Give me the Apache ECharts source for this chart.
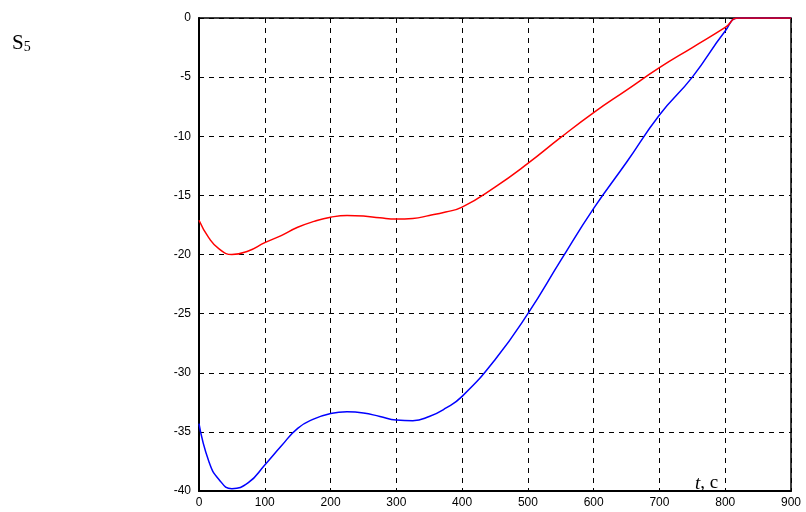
<!DOCTYPE html>
<html>
<head>
<meta charset="utf-8">
<script src="https://cdn.jsdelivr.net/npm/echarts@6/dist/echarts.min.js"></script>
<style>
  html, body { margin: 0; padding: 0; background: #fff; }
  #chart { width: 806px; height: 512px; }
</style>
</head>
<body>
<div id="chart"></div>
<script>
// time, s
var tVals = [0, 15, 30, 50, 75, 100, 125, 150, 175, 200, 225, 250, 275, 300, 325, 350, 375, 400,
             450, 500, 550, 600, 650, 700, 750, 800, 820, 900];
// red curve
var redVals = [-17.1, -18.6, -19.5, -20.0, -19.7, -19.0, -18.4, -17.7, -17.2, -16.85, -16.7, -16.75, -16.9, -17.0, -16.95, -16.7, -16.4, -16.0,
               -14.3, -12.3, -10.1, -8.0, -6.1, -4.2, -2.5, -0.8, 0, 0];
// blue curve
var blueVals = [-34.3, -37.5, -39.0, -39.8, -39.3, -37.8, -36.2, -34.7, -33.9, -33.45, -33.3, -33.4, -33.7, -34.0, -34.05, -33.7, -33.0, -32.0,
                -28.9, -25.0, -20.5, -16.1, -12.2, -8.2, -5.0, -1.1, 0, 0];

function pairs(vals) {
  var out = [];
  for (var i = 0; i < tVals.length; i++) {
    out.push([tVals[i], vals[i]]);
  }
  return out;
}

var chart = echarts.init(document.getElementById('chart'));
var gridLine = { show: true, lineStyle: { color: '#000', type: [5, 5], width: 1 } };
var option = {
  animation: false,
  backgroundColor: '#fff',
  grid: {
    left: 199, top: 18, right: 15, bottom: 21,
    show: true, borderColor: '#000', borderWidth: 1.5
  },
  xAxis: {
    type: 'value', min: 0, max: 900, interval: 100,
    axisLine: { show: true, onZero: false, lineStyle: { color: '#000', width: 2 } },
    axisTick: { show: false },
    axisLabel: { color: '#000', fontFamily: 'Liberation Sans', fontSize: 12, margin: 6 },
    splitLine: gridLine
  },
  yAxis: {
    type: 'value', min: -40, max: 0, interval: 5,
    axisLine: { show: true, onZero: false, lineStyle: { color: '#000', width: 2 } },
    axisTick: { show: false },
    axisLabel: { color: '#000', fontFamily: 'Liberation Sans', fontSize: 12, margin: 8 },
    splitLine: gridLine
  },
  graphic: [
    {
      type: 'text', left: 12, top: 33,
      style: {
        text: '{s|S}{n|5}',
        rich: {
          s: { fontFamily: 'Liberation Serif', fontSize: 21, fill: '#000' },
          n: { fontFamily: 'Liberation Serif', fontSize: 14, fill: '#000', verticalAlign: 'bottom', padding: [8, 0, 0, 0] }
        }
      }
    },
    {
      type: 'text', left: 695, top: 474, z: 100,
      style: {
        text: '{t|t}{c|, c}',
        rich: {
          t: { fontFamily: 'Liberation Serif', fontStyle: 'italic', fontSize: 19, fill: '#000' },
          c: { fontFamily: 'Liberation Serif', fontSize: 19, fill: '#000' }
        }
      }
    }
  ],
  series: [
    {
      name: 'blue', type: 'line', data: pairs(blueVals),
      smooth: 0.5, showSymbol: false,
      lineStyle: { color: '#0000ff', width: 1.5 }
    },
    {
      name: 'red', type: 'line', data: pairs(redVals),
      smooth: 0.5, showSymbol: false,
      lineStyle: { color: '#ff0000', width: 1.5 }
    }
  ]
};
chart.setOption(option);
</script>
</body>
</html>
